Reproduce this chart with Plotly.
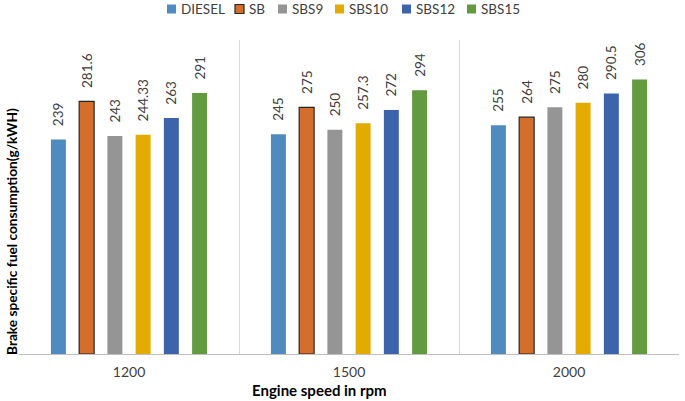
import plotly.graph_objects as go

categories = ["1200", "1500", "2000"]
series_names = ["DIESEL", "SB", "SBS9", "SBS10", "SBS12", "SBS15"]
diesel = [239, 245, 255]
sb = [281.6, 275, 264]
sbs9 = [243, 250, 275]
sbs10 = [244.33, 257.3, 280]
sbs12 = [263, 272, 290.5]
sbs15 = [291, 294, 306]
label_diesel = ["239", "245", "255"]
label_sb = ["281.6", "275", "264"]
label_sbs9 = ["243", "250", "275"]
label_sbs10 = ["244.33", "257.3", "280"]
label_sbs12 = ["263", "272", "290.5"]
label_sbs15 = ["291", "294", "306"]

values = {"DIESEL": diesel, "SB": sb, "SBS9": sbs9, "SBS10": sbs10, "SBS12": sbs12, "SBS15": sbs15}
labels = {"DIESEL": label_diesel, "SB": label_sb, "SBS9": label_sbs9, "SBS10": label_sbs10,
          "SBS12": label_sbs12, "SBS15": label_sbs15}
colors = {"DIESEL": "#4F8BBF", "SB": "#D36E2C", "SBS9": "#959595", "SBS10": "#E3AA00",
          "SBS12": "#3D64AA", "SBS15": "#619A3F"}

FONT = "Lato, 'Open Sans', sans-serif"

W, H = 685, 401
PL, PR, PT, PB = 19, 679, 40, 354  # plot area in screen px
def xp(sx):
    return (sx - PL) / (PR - PL)
def yp(sy):
    return (PB - sy) / (PB - PT)

fig = go.Figure()
for name in series_names:
    is_sb = name == "SB"
    fig.add_trace(go.Bar(
        name=name, x=categories, y=values[name],
        marker=dict(color=colors[name],
                    line=dict(color="#262626" if is_sb else colors[name], width=1.2 if is_sb else 0)),
        text=labels[name], texttemplate="\u00a0\u00a0\u00a0%{text}",
        textposition="outside", textangle=-90,
        textfont=dict(family=FONT, size=13.5, color="#404040"),
        cliponaxis=False, showlegend=False,
    ))

fig.update_layout(
    width=W, height=H,
    margin=dict(l=PL, r=W - PR, t=PT, b=H - PB),
    paper_bgcolor="white", plot_bgcolor="white",
    barmode="group", bargap=0.23, bargroupgap=0.47,
    font=dict(family=FONT, size=13, color="#404040"),
    showlegend=False,
    uniformtext=dict(minsize=13, mode="show"),
)
fig.update_xaxes(
    type="category", tickson="boundaries", showgrid=True, gridcolor="#D9D9D9", gridwidth=1,
    showline=True, linecolor="#BFBFBF", linewidth=1, ticks="",
    tickfont=dict(family=FONT, size=14, color="#404040"), ticklabelstandoff=5,
)
fig.update_yaxes(
    range=[0, 350], showgrid=False, showticklabels=False, zeroline=False,
    showline=False, ticks="",
)

# custom legend (square + text) laid out like the reference
legend_sq_x = [167, 235, 278, 335, 402, 467]
legend_y = 9
for name, sx in zip(series_names, legend_sq_x):
    is_sb = name == "SB"
    fig.add_shape(type="rect", xref="paper", yref="paper",
                  x0=xp(sx), x1=xp(sx + 9), y0=yp(legend_y - 4.5), y1=yp(legend_y + 4.5),
                  fillcolor=colors[name],
                  line=dict(color="#262626" if is_sb else colors[name], width=1.2 if is_sb else 0))
    fig.add_annotation(text=name, xref="paper", yref="paper", x=xp(sx + 12), y=yp(legend_y),
                       xanchor="left", yanchor="middle", showarrow=False,
                       font=dict(family=FONT, size=13.5, color="#404040"))

fig.add_annotation(text="<b>Engine speed in rpm</b>", xref="paper", yref="paper",
                   x=xp(319), y=yp(390), yanchor="middle", xanchor="center",
                   showarrow=False, font=dict(family=FONT, size=15, color="#000000"))
fig.add_annotation(text="<b>Brake specific fuel consumption(g/kWH)</b>", xref="paper", yref="paper",
                   x=xp(11), y=yp(232), textangle=-90, xanchor="center", yanchor="middle",
                   showarrow=False, font=dict(family=FONT, size=13.7, color="#000000"))

fig.write_html("out.html", config={"displayModeBar": False},
               post_script="document.body.style.margin='0';")
